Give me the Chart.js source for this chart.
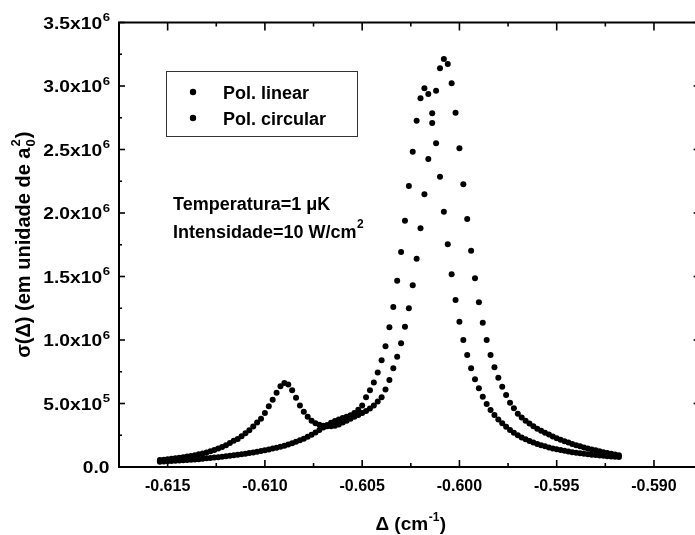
<!DOCTYPE html>
<html><head><meta charset="utf-8">
<script src="https://cdn.jsdelivr.net/npm/chart.js@4"></script>
<style>html,body{margin:0;padding:0;overflow:hidden;background:#fff}canvas{display:block}</style>
</head><body><canvas id="c" width="720" height="535"></canvas>
<script>
const delta = [
-0.6154,-0.6152,-0.6150,-0.6148,-0.6146,-0.6144,-0.6142,-0.6140,-0.6138,-0.6136,
-0.6134,-0.6132,-0.6130,-0.6128,-0.6126,-0.6124,-0.6122,-0.6120,-0.6118,-0.6116,
-0.6114,-0.6112,-0.6110,-0.6108,-0.6106,-0.6104,-0.6102,-0.6100,-0.6098,-0.6096,
-0.6094,-0.6092,-0.6090,-0.6088,-0.6086,-0.6084,-0.6082,-0.6080,-0.6078,-0.6076,
-0.6074,-0.6072,-0.6070,-0.6068,-0.6066,-0.6064,-0.6062,-0.6060,-0.6058,-0.6056,
-0.6054,-0.6052,-0.6050,-0.6048,-0.6046,-0.6044,-0.6042,-0.6040,-0.6038,-0.6036,
-0.6034,-0.6032,-0.6030,-0.6028,-0.6026,-0.6024,-0.6022,-0.6020,-0.6018,-0.6016,
-0.6014,-0.6012,-0.6010,-0.6008,-0.6006,-0.6004,-0.6002,-0.6000,-0.5998,-0.5996,
-0.5994,-0.5992,-0.5990,-0.5988,-0.5986,-0.5984,-0.5982,-0.5980,-0.5978,-0.5976,
-0.5974,-0.5972,-0.5970,-0.5968,-0.5966,-0.5964,-0.5962,-0.5960,-0.5958,-0.5956,
-0.5954,-0.5952,-0.5950,-0.5948,-0.5946,-0.5944,-0.5942,-0.5940,-0.5938,-0.5936,
-0.5934,-0.5932,-0.5930,-0.5928,-0.5926,-0.5924,-0.5922,-0.5920,-0.5918];

const polLinear = [
42000,44000,46000,48000,50000,52000,54000,56000,58000,60000,
62000,65000,68000,71000,74000,77000,80000,84000,88000,92000,
96000,100000,105000,110000,115000,120000,126000,132000,138000,145000,
152000,160000,168000,177000,187000,198000,210000,223000,238000,254000,
272000,292000,312000,330000,348000,362000,375000,385000,395000,408000,
425000,450000,485000,550000,605000,665000,745000,840000,950000,1100000,
1260000,1467000,1693000,1939000,2213000,2483000,2727000,2903000,2982000,2937000,
2785000,2549000,2286000,2010000,1754000,1517000,1315000,1144000,1000000,882000,
777000,690000,620000,554000,496000,449000,410000,375000,345000,317000,
292000,270000,250000,233000,218000,205000,193000,182000,172000,163000,
154000,146000,139000,133000,127000,122000,117000,112000,108000,104000,
100000,97000,94000,91000,88000,85000,82000,80000,78000];

const polCircular = [
55000,58000,61000,64000,68000,72000,77000,82000,87000,93000,
100000,107000,115000,124000,134000,145000,158000,172000,188000,206000,
220000,242000,265000,290000,318000,350000,380000,425000,478000,530000,
585000,635000,662000,650000,605000,545000,485000,435000,395000,365000,
345000,332000,324000,320000,320000,325000,335000,350000,365000,380000,
395000,410000,425000,440000,460000,485000,515000,550000,610000,685000,
777000,869000,974000,1105000,1250000,1431000,1640000,1880000,2147000,2425000,
2709000,2963000,3139000,3213000,3173000,3021000,2790000,2510000,2226000,1953000,
1703000,1486000,1297000,1136000,1000000,882000,785000,703000,632000,567000,
506000,462000,420000,390000,365000,342000,320000,302000,285000,270000,
255000,240000,227000,215000,203000,192000,182000,172000,163000,154000,
146000,138000,131000,124000,117000,110000,104000,98000,93000];

const seriesNames = ['Pol. linear', 'Pol. circular'];
const xTicks = [-0.615, -0.610, -0.605, -0.600, -0.595, -0.590];
const xTickLabels = ['-0.615', '-0.610', '-0.605', '-0.600', '-0.595', '-0.590'];
const xMinorTicks = [-0.6125, -0.6075, -0.6025, -0.5975, -0.5925];
const yTicks = [0, 500000, 1000000, 1500000, 2000000, 2500000, 3000000, 3500000];
const yTickBase = ['0.0', '5.0x10', '1.0x10', '1.5x10', '2.0x10', '2.5x10', '3.0x10', '3.5x10'];
const yTickExp = ['', '5', '6', '6', '6', '6', '6', '6'];
const yMinorTicks = [250000, 750000, 1250000, 1750000, 2250000, 2750000, 3250000];
const annotationLines = [['Temperatura=1 \u03BCK', ''], ['Intensidade=10 W/cm', '2']];

const FONT = '"Liberation Sans", Arial, Helvetica, sans-serif';

const framePlugin = {
  id: 'framePlugin',
  afterDraw(chart) {
    const ctx = chart.ctx;
    const a = chart.chartArea;
    const xs = chart.scales.x, ys = chart.scales.y;
    ctx.save();
    ctx.strokeStyle = '#000';
    ctx.fillStyle = '#000';
    ctx.lineWidth = 2;
    ctx.strokeRect(a.left, a.top, a.right - a.left, a.bottom - a.top);
    ctx.lineWidth = 1.6;
    const tick = (x1, y1, x2, y2) => { ctx.beginPath(); ctx.moveTo(x1, y1); ctx.lineTo(x2, y2); ctx.stroke(); };
    xTicks.forEach(v => { const p = xs.getPixelForValue(v); tick(p, a.bottom, p, a.bottom - 7); tick(p, a.top, p, a.top + 8); });
    xMinorTicks.forEach(v => { const p = xs.getPixelForValue(v); tick(p, a.bottom, p, a.bottom - 4); tick(p, a.top, p, a.top + 4); });
    yTicks.forEach(v => { const p = ys.getPixelForValue(v); tick(a.left, p, a.left + 6, p); tick(a.right, p, a.right - 9, p); });
    yMinorTicks.forEach(v => { const p = ys.getPixelForValue(v); tick(a.left, p, a.left + 3, p); tick(a.right, p, a.right - 5, p); });
    // x tick labels
    ctx.font = 'bold 16px ' + FONT;
    ctx.textAlign = 'center';
    ctx.textBaseline = 'alphabetic';
    xTicks.forEach((v, i) => { ctx.fillText(xTickLabels[i], xs.getPixelForValue(v), 491); });
    // y tick labels (slightly widened glyphs like the scanned original)
    const sx = 1.2;
    yTicks.forEach((v, i) => {
      const p = ys.getPixelForValue(v);
      const right = 110;
      ctx.save();
      ctx.translate(right, p);
      ctx.scale(sx, 1);
      ctx.font = 'bold 11px ' + FONT;
      const ew = yTickExp[i] ? ctx.measureText(yTickExp[i]).width : 0;
      ctx.textAlign = 'left';
      if (yTickExp[i]) ctx.fillText(yTickExp[i], -ew, -1.5);
      ctx.font = 'bold 16px ' + FONT;
      ctx.textAlign = 'right';
      ctx.fillText(yTickBase[i], -ew - 0.5, 6);
      ctx.restore();
    });
    // x title
    {
      ctx.font = 'bold 19px ' + FONT;
      const t1 = '\u0394 (cm', t3 = ')';
      const w1 = ctx.measureText(t1).width, w3 = ctx.measureText(t3).width;
      ctx.font = 'bold 12px ' + FONT;
      const t2 = '-1';
      const w2 = ctx.measureText(t2).width;
      const total = w1 + w2 + w3 + 1;
      const cx = (a.left + a.right) / 2;
      let x = cx - total / 2;
      const base = 530;
      ctx.textAlign = 'left';
      ctx.font = 'bold 19px ' + FONT;
      ctx.fillText(t1, x, base);
      ctx.font = 'bold 12px ' + FONT;
      ctx.fillText(t2, x + w1 + 0.5, base - 9);
      ctx.font = 'bold 19px ' + FONT;
      ctx.fillText(t3, x + w1 + w2 + 1, base);
    }
    // y title
    {
      ctx.save();
      ctx.translate(30, (a.top + a.bottom) / 2);
      ctx.rotate(-Math.PI / 2);
      ctx.font = 'bold 20px ' + FONT;
      const t1 = '\u03C3(\u0394) (em unidade de a', t3 = ')';
      const w1 = ctx.measureText(t1).width, w3 = ctx.measureText(t3).width;
      ctx.font = 'bold 13px ' + FONT;
      const w2 = ctx.measureText('0').width;
      const total = w1 + w2 + w3 + 2;
      let x = -total / 2;
      ctx.textAlign = 'left';
      ctx.font = 'bold 20px ' + FONT;
      ctx.fillText(t1, x, 0);
      ctx.font = 'bold 13px ' + FONT;
      ctx.fillText('0', x + w1 + 1, 5);
      ctx.fillText('2', x + w1 + 1, -10);
      ctx.font = 'bold 20px ' + FONT;
      ctx.fillText(t3, x + w1 + w2 + 2, 0);
      ctx.restore();
    }
    // legend box
    ctx.lineWidth = 1;
    ctx.strokeStyle = '#333';
    ctx.strokeRect(166.5, 71.5, 191, 65);
    ctx.font = 'bold 18px ' + FONT;
    ctx.textAlign = 'left';
    chart.data.datasets.forEach((ds, i) => {
      const yy = 92 + i * 26;
      ctx.beginPath();
      ctx.arc(193, yy, 3.2, 0, Math.PI * 2);
      ctx.fill();
      ctx.fillText(ds.label, 223, yy + 6.5);
    });
    // annotation
    annotationLines.forEach((ln, i) => {
      const base = 210 + i * 28;
      ctx.font = 'bold 18px ' + FONT;
      ctx.fillText(ln[0], 173, base);
      if (ln[1]) {
        const w = ctx.measureText(ln[0]).width;
        ctx.font = 'bold 12px ' + FONT;
        ctx.fillText(ln[1], 173 + w + 0.5, base - 10);
      }
    });
    ctx.restore();
  }
};

new Chart(document.getElementById('c'), {
  type: 'scatter',
  data: {
    datasets: [
      { label: seriesNames[0], data: delta.map((d, i) => ({ x: d, y: polLinear[i] })), pointRadius: 3, pointBackgroundColor: '#000', pointBorderWidth: 0, showLine: false },
      { label: seriesNames[1], data: delta.map((d, i) => ({ x: d, y: polCircular[i] })), pointRadius: 3, pointBackgroundColor: '#000', pointBorderWidth: 0, showLine: false }
    ]
  },
  options: {
    responsive: false,
    animation: false,
    events: [],
    layout: { padding: { left: 119, top: 22.5, right: 720 - 702.6, bottom: 535 - 467 } },
    plugins: { legend: { display: false }, tooltip: { enabled: false } },
    scales: {
      x: { type: 'linear', min: -0.6175, max: -0.5875, display: false },
      y: { min: 0, max: 3500000, display: false }
    }
  },
  plugins: [framePlugin]
});
</script>
</body></html>
